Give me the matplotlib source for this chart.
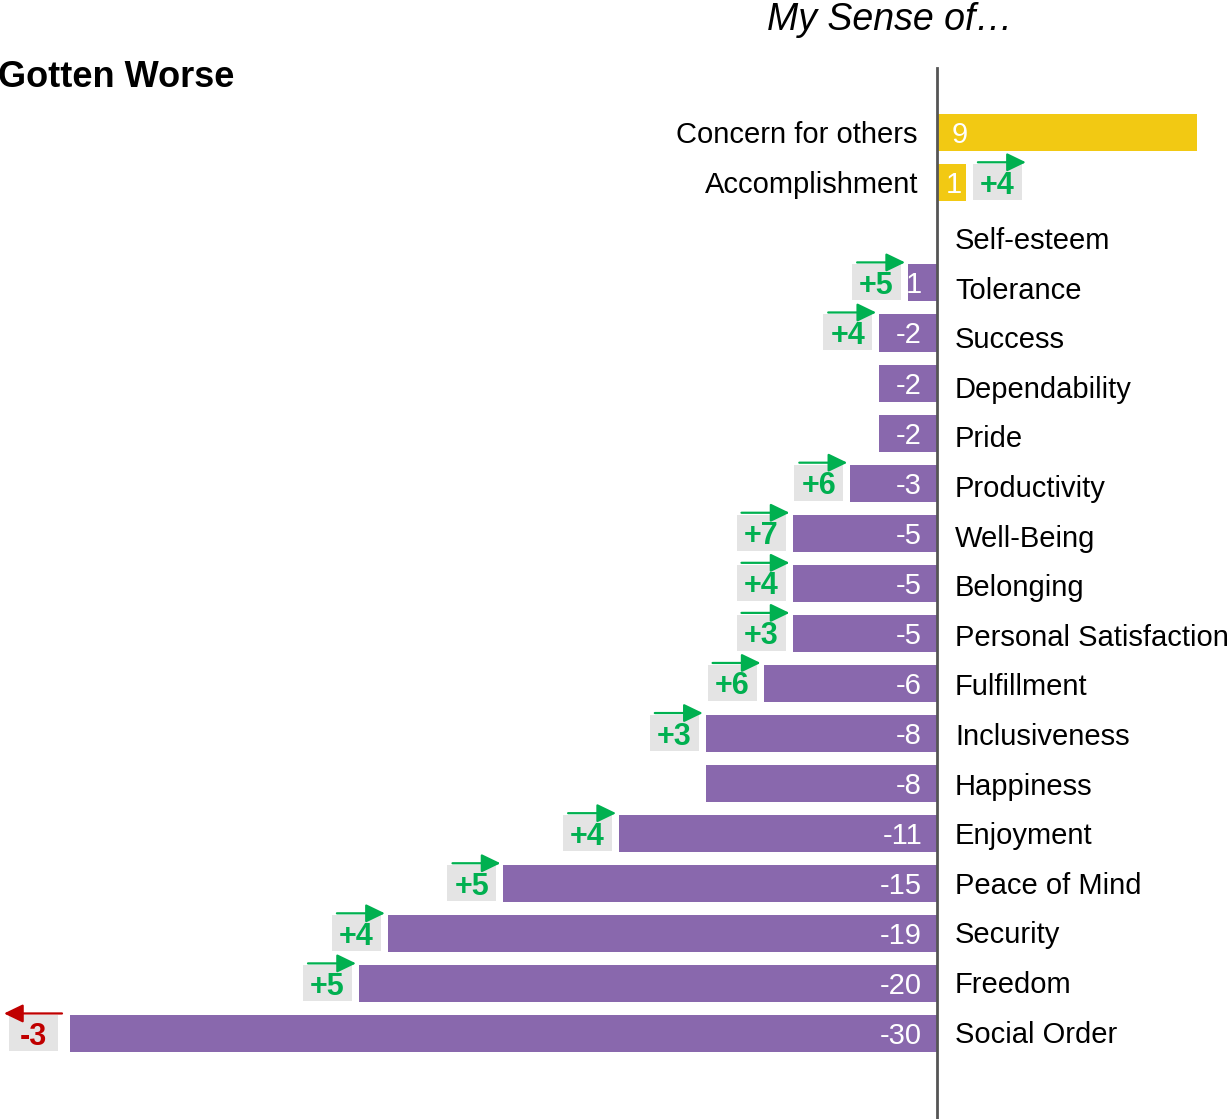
import matplotlib
matplotlib.use("Agg")
import matplotlib.pyplot as plt
from matplotlib.patches import Rectangle

plt.rcParams['font.family'] = ['Liberation Sans', 'DejaVu Sans']

categories = ["Concern for others", "Accomplishment", "Self-esteem", "Tolerance", "Success",
              "Dependability", "Pride", "Productivity", "Well-Being", "Belonging",
              "Personal Satisfaction", "Fulfillment", "Inclusiveness", "Happiness",
              "Enjoyment", "Peace of Mind", "Security", "Freedom", "Social Order"]
values = [9, 1, 0, -1, -2, -2, -2, -3, -5, -5, -5, -6, -8, -8, -11, -15, -19, -20, -30]
value_labels = ["9", "1", "", "1", "-2", "-2", "-2", "-3", "-5", "-5", "-5", "-6", "-8", "-8",
                "-11", "-15", "-19", "-20", "-30"]
changes = [None, 4, None, 5, 4, None, None, 6, 7, 4, 3, 6, 3, None, 4, 5, 4, 5, -3]

PURPLE = "#8968AD"
YELLOW = "#F2C913"
GREEN = "#00B050"
RED = "#C00000"
BOXGRAY = "#E4E4E4"

W, H = 1229, 1119
fig = plt.figure(figsize=(W / 100, H / 100), dpi=100)
ax = fig.add_axes([0, 0, 1, 1])
ax.set_axis_off()

PXX = 28.9   # pixels per unit
PXY = 50.07  # pixels per row
X0 = 937
Y0 = 132.7
ax.set_xlim(-X0 / PXX, (W - X0) / PXX)
ax.set_ylim((H - Y0) / PXY, -Y0 / PXY)

def px(p):
    return p / PXX

def py(p):
    return p / PXY

n = len(categories)
ys = list(range(n))
colors = [YELLOW if v > 0 else PURPLE for v in values]
ax.barh(ys, values, height=0.74, color=colors, zorder=2)

# axis line
ax.plot([0, 0], [py(68 - Y0), py(H - Y0)], color="#555555", lw=2, zorder=3)

fs = 21
CAP = 10.5
for i, (cat, v, lab, ch) in enumerate(zip(categories, values, value_labels, changes)):
    if v > 0:
        ax.text(-px(19), i + py(CAP), cat, ha="right", va="baseline", fontsize=fs, color="black")
        if v > 1:
            ax.text(px(15), i + py(CAP), lab, ha="left", va="baseline", fontsize=fs,
                    color="white", zorder=4)
        else:
            ax.text(v / 2 + px(2), i + py(CAP), lab, ha="center", va="baseline", fontsize=fs,
                    color="white", zorder=4)
    else:
        # right-side labels follow their own slightly tighter spacing
        ypix = 238.5 + 49.6 * (i - 2) + CAP
        ax.text(px(18), py(ypix - Y0), cat, ha="left", va="baseline", fontsize=fs, color="black")
        if lab:
            ax.text(-px(15), i + py(CAP), lab, ha="right", va="baseline", fontsize=fs,
                    color="white", zorder=4)
    if ch is None:
        continue
    bw, bh = px(49), py(36)
    if ch > 0 and v > 0:
        bx = v + px(7)
    elif ch > 0:
        bx = v - px(7) - bw
    else:
        bx = v - px(12) - bw
    top = i - py(18.5)
    ax.add_patch(Rectangle((bx, top), bw, bh, facecolor=BOXGRAY, edgecolor="none", zorder=3))
    col = GREEN if ch > 0 else RED
    txt = f"+{ch}" if ch > 0 else f"{ch}"
    ax.text(bx + bw / 2, top + py(29.5), txt, ha="center", va="baseline", fontsize=22,
            fontweight="bold", color=col, zorder=5)
    ay = i - py(20.5)
    if ch > 0:
        tail, tip = bx + px(5), bx + bw + px(4)
    else:
        tail, tip = bx + bw + px(4), bx - px(5)
    ax.annotate("", xy=(tip, ay), xytext=(tail, ay),
                arrowprops=dict(arrowstyle="-|>,head_length=0.58,head_width=0.28", color=col,
                                lw=1.6, shrinkA=0, shrinkB=0, mutation_scale=20), zorder=6)

fig.text(-2 / W, 1 - 87 / H, "Gotten Worse", ha="left", va="baseline", fontsize=26,
         fontweight="bold")
fig.text(890 / W, 1 - 30 / H, "My Sense of…", ha="center", va="baseline", fontsize=27,
         style="italic")

fig.savefig("out.png", dpi=100)
